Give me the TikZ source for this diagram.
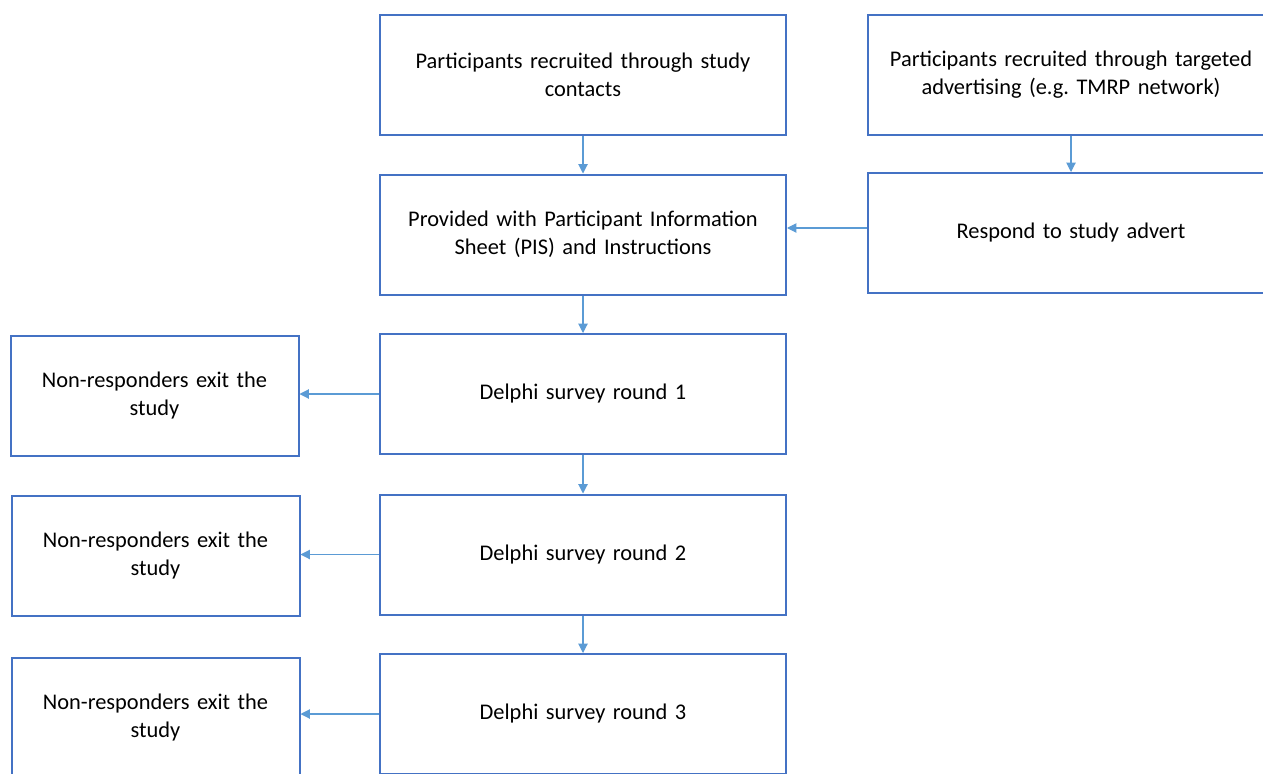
\documentclass[tikz,border=0pt]{standalone}
\usepackage{fontspec}
\setmainfont{Carlito}
\frenchspacing
\usetikzlibrary{arrows.meta}
\definecolor{boxblue}{HTML}{4472C4}
\definecolor{arrblue}{HTML}{5B9BD5}
\tikzset{
  stage/.style={draw=boxblue,line width=1.5pt,fill=white,minimum width=304.5pt,minimum height=90pt,
    text width=295pt,align=center,font=\fontsize{16.8}{21}\selectfont},
  exitbox/.style={stage,minimum width=216pt,text width=205pt},
  flow/.style={draw=arrblue,line width=0.8pt,-{Triangle[length=7pt,width=7pt]}}
}
\begin{document}
\begin{tikzpicture}[x=0.75pt,y=-0.75pt]
      \useasboundingbox (0,0) rectangle (1263,774);
      \clip (0,0) rectangle (1263,774);
      %boxes
      \node[stage] (contacts) at (583,75) {Participants recruited through study\\contacts};
      \node[stage] (advert) at (1071,75) {Participants recruited through targeted\\advertising (e.g. TMRP network)};
      \node[stage] (pis) at (583,234.5) {Provided with Participant Information\\Sheet (PIS) and Instructions};
      \node[stage] (respond) at (1071,233) {Respond to study advert};
      \node[stage] (round1) at (583,394) {Delphi survey round 1};
      \node[stage] (round2) at (583,554.5) {Delphi survey round 2};
      \node[stage] (round3) at (583,714) {Delphi survey round 3};
      \node[exitbox] (exit1) at (154.5,395.5) {Non-responders exit the\\study};
      \node[exitbox] (exit2) at (155.5,555.5) {Non-responders exit the\\study};
      \node[exitbox] (exit3) at (155.5,718) {Non-responders exit the\\study};
      %arrows
      \draw[flow] (contacts) -- (pis);
      \draw[flow] (advert) -- (respond);
      \draw[flow] (respond.west |- 0,228) -- (pis.east |- 0,228);
      \draw[flow] (pis) -- (round1);
      \draw[flow] (round1) -- (round2);
      \draw[flow] (round2) -- (round3);
      \draw[flow] (round1) -- (exit1.east |- round1);
      \draw[flow] (round2) -- (exit2.east |- round2);
      \draw[flow] (round3) -- (exit3.east |- round3);
\end{tikzpicture}
\end{document}
